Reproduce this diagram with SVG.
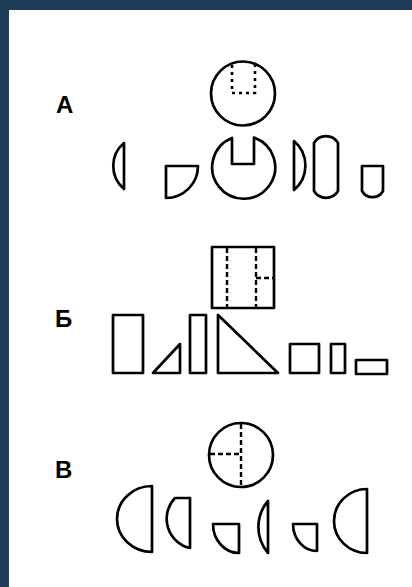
<svg xmlns="http://www.w3.org/2000/svg" width="412" height="587" viewBox="0 0 412 587">
<style>
.s{fill:none;stroke:#000;stroke-width:2.7;stroke-linejoin:round}
.d{fill:none;stroke:#000;stroke-width:2.4;stroke-dasharray:5 3}
.dt{fill:none;stroke:#000;stroke-width:2.6;stroke-dasharray:3 4}
.l{font-family:"Liberation Sans",Arial,sans-serif;font-weight:bold;font-size:24px;fill:#000}
</style>
<rect x="0" y="0" width="412" height="587" fill="#1f3b56"/>
<rect x="9" y="10" width="403" height="577" fill="#fff"/>
<g id="panelA">
<text class="l" x="56" y="113">А</text>
<g id="a-top">
<circle class="s" cx="243" cy="93.5" r="32"/>
<path class="dt" d="M232,65 V93 H255 V65"/>
</g>
<path id="a1" class="s" d="M124,143 A30,30 0 0 0 124,189 Z"/>
<path id="a2" class="s" d="M166,166 H198 A32,32 0 0 1 166,198 Z"/>
<path id="a3" class="s" d="M232,138 V164 H254 V137.5 A31.5,31.5 0 1 1 232,138 Z"/>
<path id="a4" class="s" d="M294,141 A32,32 0 0 1 294,190 Z"/>
<path id="a5" class="s" d="M314,143 A14,14 0 0 1 338,143 V191 A14,14 0 0 1 314,191 Z"/>
<path id="a6" class="s" d="M362,166 H383 V191 A12,12 0 0 1 362,191 Z"/>
</g>
<g id="panelB">
<text class="l" x="55" y="327">Б</text>
<g id="b-top">
<rect class="s" x="212" y="247" width="62" height="61"/>
<path class="d" d="M227,248 V307 M256,248 V307 M256,278 H273"/>
</g>
<rect id="b1" class="s" x="113" y="315" width="30" height="58"/>
<path id="b2" class="s" d="M153,373 H180 V344 Z"/>
<rect id="b3" class="s" x="190" y="315" width="16" height="58"/>
<path id="b4" class="s" d="M218,315 V373 H278 Z"/>
<rect id="b5" class="s" x="290" y="344" width="29" height="29"/>
<rect id="b6" class="s" x="331" y="344" width="14" height="29"/>
<rect id="b7" class="s" x="356" y="360" width="31" height="14"/>
</g>
<g id="panelV">
<text class="l" x="55" y="478">В</text>
<g id="v-top">
<circle class="s" cx="241" cy="455" r="32"/>
<path class="d" d="M241,424 V486 M210,454 H241"/>
</g>
<path id="v1" class="s" d="M152,486 A35,33 0 0 0 152,552 Z"/>
<path id="v2" class="s" d="M175,498 H190 V548 A30,30 0 0 1 175,498 Z"/>
<path id="v3" class="s" d="M213,524 H239 V553 A26,29 0 0 1 213,524 Z"/>
<path id="v4" class="s" d="M268,501 V553 A40,40 0 0 1 268,501 Z"/>
<path id="v5" class="s" d="M293,524 H317 V551 A24,27 0 0 1 293,524 Z"/>
<path id="v6" class="s" d="M367,489 V553 A33,32 0 0 1 367,489 Z"/>
</g>
</svg>
